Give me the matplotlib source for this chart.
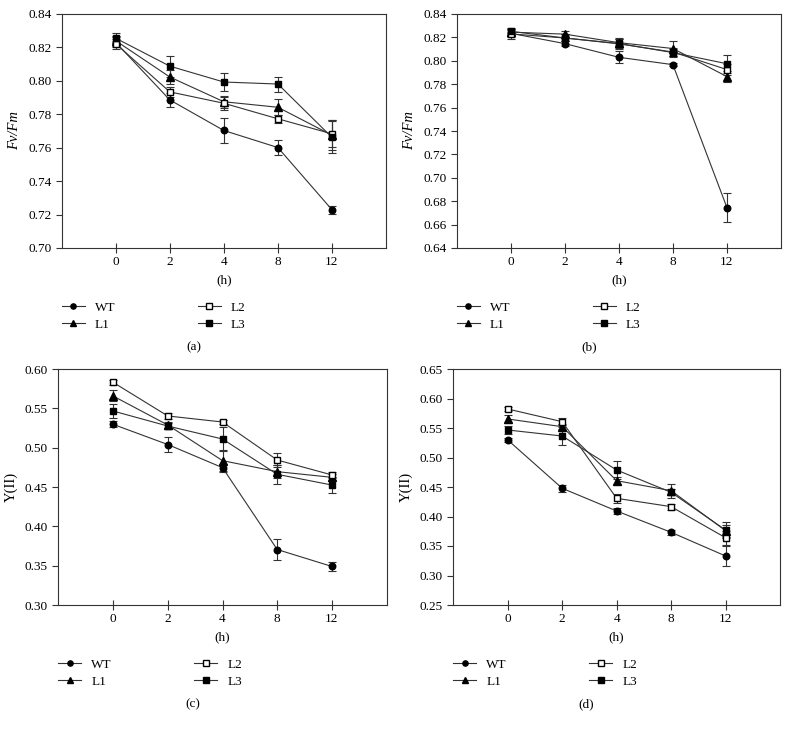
import numpy as np
import matplotlib as mpl
import matplotlib.pyplot as plt
from matplotlib.lines import Line2D

# data
hours = ['0', '2', '4', '8', '12']
series = ['WT', 'L1', 'L2', 'L3']

# (a) Fv/Fm
a_wt = [0.823, 0.7886, 0.7703, 0.7601, 0.7229]
a_l1 = [0.824, 0.8023, 0.7875, 0.7842, 0.7675]
a_l2 = [0.8222, 0.7934, 0.7866, 0.7773, 0.7683]
a_l3 = [0.8255, 0.8088, 0.7993, 0.7981, 0.7662]
a_wt_err = [0.003, 0.004, 0.0073, 0.0045, 0.0023]
a_l1_err = [0.003, 0.004, 0.0035, 0.0047, 0.009]
a_l2_err = [0.003, 0.003, 0.004, 0.0025, 0.008]
a_l3_err = [0.003, 0.0063, 0.0053, 0.0045, 0.0095]

# (b) Fv/Fm
b_wt = [0.8235, 0.8147, 0.803, 0.7967, 0.6745]
b_l1 = [0.8245, 0.8228, 0.8155, 0.8105, 0.7865]
b_l2 = [0.823, 0.8195, 0.8145, 0.8075, 0.7925]
b_l3 = [0.8252, 0.8195, 0.8148, 0.807, 0.7975]
b_wt_err = [0.003, 0.002, 0.005, 0.0015, 0.0125]
b_l1_err = [0.003, 0.003, 0.004, 0.006, 0.005]
b_l2_err = [0.004, 0.003, 0.004, 0.003, 0.005]
b_l3_err = [0.003, 0.003, 0.004, 0.004, 0.0078]

# (c) Y(II)
c_wt = [0.5297, 0.504, 0.4746, 0.3705, 0.349]
c_l1 = [0.5657, 0.5288, 0.4835, 0.4695, 0.4623]
c_l2 = [0.5831, 0.5403, 0.5326, 0.4843, 0.4653]
c_l3 = [0.5466, 0.5275, 0.511, 0.4661, 0.4525]
c_wt_err = [0.004, 0.01, 0.005, 0.0135, 0.006]
c_l1_err = [0.007, 0.004, 0.0135, 0.008, 0.004]
c_l2_err = [0.003, 0.004, 0.002, 0.0085, 0.004]
c_l3_err = [0.009, 0.004, 0.015, 0.012, 0.01]

# (d) Y(II)
d_wt = [0.5297, 0.4478, 0.4093, 0.3732, 0.3331]
d_l1 = [0.5653, 0.5522, 0.4607, 0.4438, 0.376]
d_l2 = [0.5822, 0.5607, 0.4308, 0.4167, 0.364]
d_l3 = [0.5466, 0.5364, 0.4788, 0.441, 0.3771]
d_wt_err = [0.004, 0.006, 0.005, 0.004, 0.017]
d_l1_err = [0.007, 0.004, 0.006, 0.012, 0.01]
d_l2_err = [0.003, 0.006, 0.008, 0.005, 0.012]
d_l3_err = [0.007, 0.015, 0.015, 0.005, 0.014]

# configuration
mpl.rcParams['font.family'] = 'Liberation Serif'
mpl.rcParams['font.size'] = 9
mpl.rcParams['xtick.labelsize'] = 9.5
mpl.rcParams['ytick.labelsize'] = 9.5
mpl.rcParams['axes.linewidth'] = 0.8
mpl.rcParams['axes.edgecolor'] = '#333333'

W, H = 789, 729
fig = plt.figure(figsize=(W / 100, H / 100), dpi=100)

line_c = '#333333'
styles = {
    'WT': dict(marker='o', mfc='black', mec='black'),
    'L1': dict(marker='^', mfc='black', mec='black'),
    'L2': dict(marker='s', mfc='white', mec='black'),
    'L3': dict(marker='s', mfc='black', mec='black'),
}
sizes = {'WT': 4.7, 'L1': 5.2, 'L2': 4.7, 'L3': 4.7}


def px(x, y):
    return x / W, 1 - y / H


panels = [
    # left, top, right, bottom (pixels), data, errors, ylim, yticks, ylabel, tag, style
    ((61.7, 14, 386, 248), [a_wt, a_l1, a_l2, a_l3], [a_wt_err, a_l1_err, a_l2_err, a_l3_err],
     (0.70, 0.84), np.arange(0.70, 0.841, 0.02), 'Fv/Fm', '(a)', 'italic'),
    ((456.7, 14, 781, 248), [b_wt, b_l1, b_l2, b_l3], [b_wt_err, b_l1_err, b_l2_err, b_l3_err],
     (0.64, 0.84), np.arange(0.64, 0.841, 0.02), 'Fv/Fm', '(b)', 'italic'),
    ((58.3, 369, 386.7, 605), [c_wt, c_l1, c_l2, c_l3], [c_wt_err, c_l1_err, c_l2_err, c_l3_err],
     (0.30, 0.60), np.arange(0.30, 0.601, 0.05), 'Y(II)', '(c)', 'normal'),
    ((453.3, 369, 780, 605), [d_wt, d_l1, d_l2, d_l3], [d_wt_err, d_l1_err, d_l2_err, d_l3_err],
     (0.25, 0.65), np.arange(0.25, 0.651, 0.05), 'Y(II)', '(d)', 'normal'),
]

x = np.arange(len(hours))
for (l, t, r, b), vals, errs, ylim, yticks, ylab, tag, fstyle in panels:
    ax = fig.add_axes([l / W, 1 - b / H, (r - l) / W, (b - t) / H])
    for name, v, e in zip(series, vals, errs):
        ax.errorbar(x, v, yerr=e, color=line_c, lw=0.8, elinewidth=0.8,
                    capsize=3, capthick=0.8, ms=sizes[name], **styles[name])
    ax.set_xlim(-1, 5)
    ax.set_ylim(*ylim)
    ax.set_xticks(x)
    ax.set_xticklabels(hours)
    ax.set_yticks(yticks)
    ax.set_yticklabels(['%.2f' % v for v in yticks])
    ax.tick_params(axis='x', direction='inout', length=7, width=0.8, pad=2, color=line_c)
    ax.tick_params(axis='y', direction='out', length=4.5, width=0.8, pad=3, color=line_c)
    ax.set_ylabel(ylab, fontstyle=fstyle, fontsize=10.5, labelpad=5)
    ax.set_xlabel('(h)', fontsize=9.5, labelpad=5)

    # legend, two columns, smaller markers
    hs = [Line2D([], [], color=line_c, lw=0.8, ms=sizes[n] * 0.8, **styles[n]) for n in series]
    ymid = b + 68
    for hh, names, dx in [(hs[:2], series[:2], 0), (hs[2:], series[2:], 136)]:
        fig.legend(hh, names, loc='center left', bbox_to_anchor=px(l + dx, ymid),
                   frameon=False, borderpad=0, borderaxespad=0, handlelength=1.75,
                   handletextpad=0.75, labelspacing=0.35, fontsize=9.5)
    fig.text(*px((l + r) / 2 - 30, b + 99), tag, ha='center', va='center', fontsize=9.5)

plt.savefig('out.png', dpi=100)
